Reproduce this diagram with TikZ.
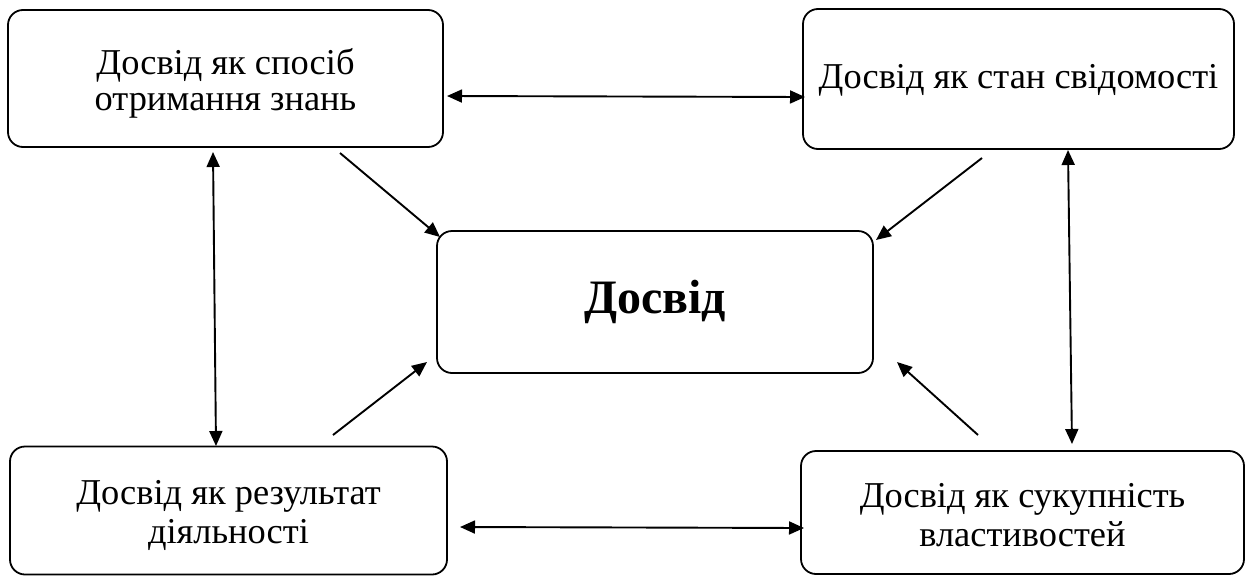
\documentclass[tikz,border=0pt]{standalone}
\usepackage{fontspec}
\setmainfont{Liberation Serif}
\usetikzlibrary{arrows.meta}
\begin{document}
\begin{tikzpicture}[x=1pt,y=-1pt,
  box/.style={draw,line width=1.8pt,rounded corners=15pt,inner sep=0pt},
  txt/.style={align=center,inner sep=0pt,font=\fontsize{36.4}{35.5}\selectfont},
  conn/.style={line width=1.9pt,-{Triangle[length=15pt,width=13pt]}},
  dconn/.style={line width=1.9pt,{Triangle[length=15pt,width=13pt]}-{Triangle[length=15pt,width=13pt]}}]
\useasboundingbox (0,0) rectangle (1250,576);
\node[box,minimum width=435pt,minimum height=137pt] (tl) at (225.5,78.5) {};
\node[box,minimum width=431pt,minimum height=140pt] (tr) at (1018.5,79) {};
\node[box,minimum width=436pt,minimum height=142pt,font=\fontsize{48}{52}\selectfont\bfseries] (c) at (655,302) {Досвід};
\node[box,minimum width=437pt,minimum height=128pt] (bl) at (228.5,510.5) {};
\node[box,minimum width=443pt,minimum height=123pt] (br) at (1022.5,512.5) {};
\node[txt] (tlt) at ([yshift=-5pt]tl.center) {Досвід як спосіб\\отримання знань};
\node[txt] (trt) at ([yshift=-1pt]tr.center) {Досвід як стан свідомості};
\node[txt,font=\fontsize{36.4}{39}\selectfont] (blt) at ([yshift=-5pt]bl.center) {Досвід як результат\\діяльності};
\node[txt,font=\fontsize{36.4}{39}\selectfont] (brt) at ([yshift=-3pt]br.center) {Досвід як сукупність\\властивостей};
% connector end points
\coordinate (h1a) at (447,96);
\coordinate (h1b) at (805,97);
\coordinate (h2a) at (460,527);
\coordinate (h2b) at (804,528);
\coordinate (v1a) at (213,152);
\coordinate (v1b) at (216,446);
\coordinate (v2a) at (1068,150);
\coordinate (v2b) at (1072,444);
\coordinate (d1s) at (340,153);
\coordinate (d1e) at (440,237);
\coordinate (d2s) at (982,158);
\coordinate (d2e) at (876,240);
\coordinate (d3s) at (333,435);
\coordinate (d3e) at (427,362);
\coordinate (d4s) at (978,435);
\coordinate (d4e) at (897,362);
\draw[dconn] (h1a) -- (h1b);
\draw[dconn] (h2a) -- (h2b);
\draw[dconn] (v1a) -- (v1b);
\draw[dconn] (v2a) -- (v2b);
\draw[conn] (d1s) -- (d1e);
\draw[conn] (d2s) -- (d2e);
\draw[conn] (d3s) -- (d3e);
\draw[conn] (d4s) -- (d4e);
\end{tikzpicture}
\end{document}
